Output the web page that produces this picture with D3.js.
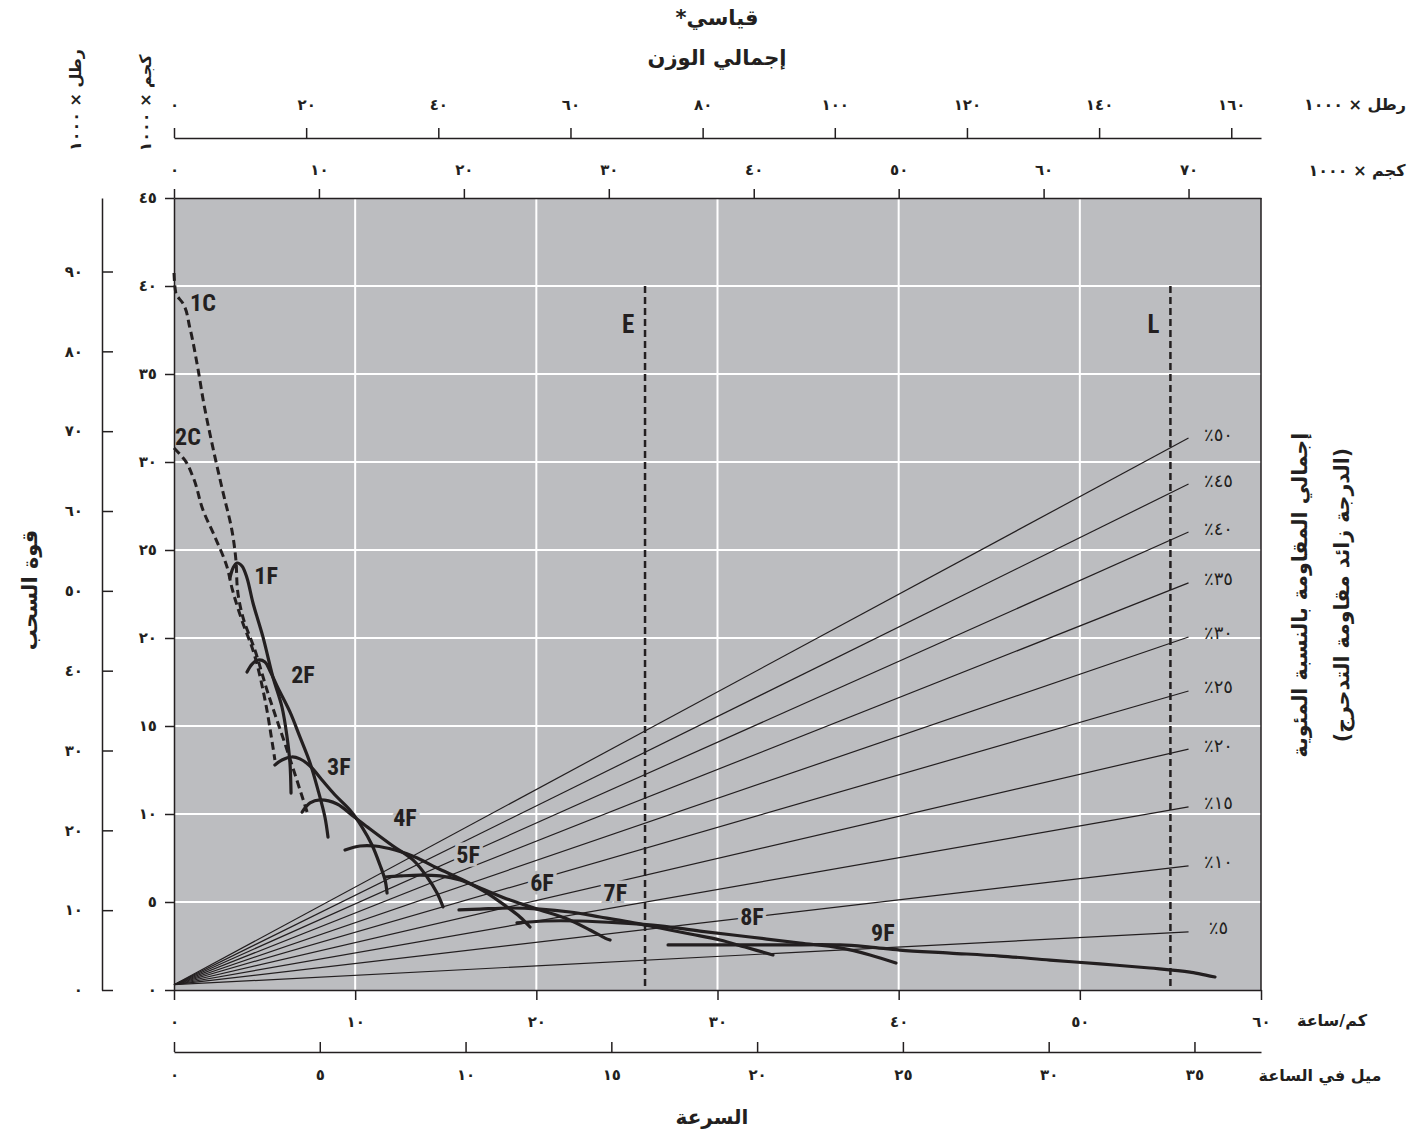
<!DOCTYPE html>
<html><head><meta charset="utf-8">
<script src="https://cdn.jsdelivr.net/npm/d3@7"></script>
<style>
body{margin:0;background:#fff}
svg{display:block}
text{fill:#231f20}
</style>
</head><body>
<svg id="c" width="1424" height="1137"></svg>
<script>
// ---------------- DATA ----------------
const speedKmTicks = [0,10,20,30,40,50,60];
const speedMphTicks = [0,5,10,15,20,25,30,35];
const pullKgTicks = [0,5,10,15,20,25,30,35,40,45];
const pullLbsTicks = [0,10,20,30,40,50,60,70,80,90];
const weightLbsTicks = [0,20,40,60,80,100,120,140,160];
const weightKgTicks = [0,10,20,30,40,50,60,70];

// Tractive-effort curves: [speed km/h, pull (x1000 kg)]
const curve1C = [[0,40.74],[0.1,39.6],[0.5,39.0],[0.88,37.6],[1.27,35.6],[1.65,33.3],[2.15,30.8],[2.7,28.3],[3.2,26.1],[3.42,24.4],[3.5,22.8],[3.8,21.2],[4.47,19.3],[5.13,17.05],[6.24,13.64],[7.4,9.94]];
const curve2C = [[0,30.8],[0.6,30.1],[1.05,29.15],[1.6,27.27],[2.26,25.74],[2.93,24.03],[3.2,22.84],[3.75,21.0],[4.36,19.3],[5.02,16.5],[5.4,14.2],[5.57,13.07]];
const curve1F = [[3.09,23.41],[3.26,23.98],[3.48,24.26],[3.75,24.09],[4.03,23.41],[4.36,21.99],[4.91,20.06],[5.46,17.78],[5.96,16.08],[6.24,14.38],[6.40,12.9],[6.46,11.19]];
const curve2F = [[4.03,18.07],[4.31,18.52],[4.64,18.75],[5.02,18.64],[5.30,18.13],[5.74,17.16],[6.40,15.8],[6.95,14.38],[7.51,12.9],[7.95,11.36],[8.33,9.83],[8.50,8.69]];
const curve3F = [[5.57,12.78],[5.96,13.07],[6.51,13.24],[6.95,13.13],[7.51,12.73],[8.17,11.93],[8.89,11.08],[9.71,10.23],[10.38,9.26],[10.93,8.24],[11.37,7.10],[11.65,6.25],[11.76,5.51]];
const curve4F = [[7.07,10.11],[7.51,10.63],[8.06,10.80],[9.0,10.57],[9.88,9.89],[10.82,9.15],[12.09,8.18],[13.19,7.39],[13.97,6.42],[14.52,5.51],[14.85,4.72]];
const curve5F = [[9.44,7.95],[10.27,8.18],[11.09,8.18],[12.2,7.95],[13.3,7.56],[14.52,6.93],[15.95,6.25],[17.28,5.51],[18.38,4.72],[19.1,4.15],[19.65,3.58]];
const curve6F = [[11.65,6.42],[12.48,6.48],[13.58,6.53],[14.69,6.48],[15.79,6.25],[17.17,5.68],[18.55,5.11],[20.2,4.55],[21.58,4.09],[22.96,3.41],[23.79,2.95],[24.07,2.84]];
const curve7F = [[15.73,4.55],[16.89,4.6],[18.55,4.66],[20.2,4.6],[21.86,4.43],[23.52,4.15],[25.17,3.86],[26.83,3.52],[28.49,3.18],[30.14,2.84],[31.52,2.44],[33.06,1.99]];
const curve8F = [[18.93,3.81],[20.48,3.92],[22.41,3.92],[24.62,3.81],[26.83,3.64],[29.03,3.35],[31.79,3.01],[34.55,2.67],[36.76,2.39],[38.42,1.99],[39.85,1.53]];
const curve9F = [[27.27,2.56],[30.14,2.56],[33.45,2.56],[36.76,2.56],[38.42,2.44],[40.07,2.27],[42.83,2.1],[45.59,1.93],[48.35,1.7],[51.11,1.48],[53.87,1.25],[56.08,1.02],[57.46,0.74]];

const curveNames = ["1C","2C","1F","2F","3F","4F","5F","6F","7F","8F","9F"];
const curveData  = [curve1C,curve2C,curve1F,curve2F,curve3F,curve4F,curve5F,curve6F,curve7F,curve8F,curve9F];
const curveDashed = [true,true,false,false,false,false,false,false,false,false,false];
// label anchor for each curve, in data units [km/h, pull]
const curveLabelAt = [[1.6,39.03],[0.77,31.42],[5.08,23.52],[7.12,17.9],[9.1,12.67],[12.75,9.77],[16.23,7.67],[20.31,6.08],[24.36,5.51],[31.9,4.15],[39.13,3.24]];
const curveLabelHalo = [false,false,false,false,false,true,true,true,true,true,true];

// Grade resistance rays
const gradePercents = [5,10,15,20,25,30,35,40,45,50];
const gradeEndPull  = [3.3,7.05,10.4,13.69,16.99,20.06,23.13,26.02,28.75,31.36];
const rayStartPull = 0.3;
const rayEndSpeed = 56;

// Speed limits
const limitNames = ["E","L"];
const limitSpeeds = [26,55];
const limitTopPull = 40;

// ---------------- HELPERS ----------------
const ar = v => String(v).replace(/[0-9]/g, d => String.fromCharCode(0x0660 + +d));
const INK = "#231f20";
const BG = "#bcbdc0";
const AFONT = "'DejaVu Sans', sans-serif";
const LFONT = "'Liberation Sans Narrow','Roboto Condensed','Liberation Sans',Arial,sans-serif";

const L = 174, R = 1261, T = 198, B = 990;
const x = d3.scaleLinear().domain([0,60]).range([L,R]);
const xMph = d3.scaleLinear().domain([0,60/1.609344]).range([L,R]);
const y = d3.scaleLinear().domain([0,45]).range([B,T]);
const yLbs = d3.scaleLinear().domain([0,45*2.20462]).range([B,T]);
const wKg = d3.scaleLinear().domain([0,75]).range([L,R]);
const wLbs = d3.scaleLinear().domain([0,164.5]).range([L,R]);

const svg = d3.select("#c");

// plot background
svg.append("rect").attr("x",L).attr("y",T).attr("width",R-L).attr("height",B-T).attr("fill",BG);

// grid
const grid = svg.append("g").attr("stroke","#fff").attr("stroke-width",2);
grid.selectAll(".gx").data(speedKmTicks.slice(1,-1)).join("line")
  .attr("x1",d=>x(d)).attr("x2",d=>x(d)).attr("y1",T).attr("y2",B);
grid.selectAll(".gy").data(pullKgTicks.slice(1,-1)).join("line")
  .attr("y1",d=>y(d)).attr("y2",d=>y(d)).attr("x1",L).attr("x2",R);

// rays
const rays = svg.append("g").attr("stroke",INK).attr("stroke-width",1.2);
rays.selectAll("line").data(gradePercents).join("line")
  .attr("x1",x(0)).attr("y1",y(rayStartPull))
  .attr("x2",x(rayEndSpeed)).attr("y2",(d,i)=>y(gradeEndPull[i]));
svg.append("g").selectAll("text").data(gradePercents).join("text")
  .attr("x",x(rayEndSpeed)+30).attr("y",(d,i)=>y(gradeEndPull[i])-4)
  .attr("direction","rtl").attr("text-anchor","middle").attr("dominant-baseline","central")
  .attr("font-family",AFONT).attr("font-size",18).attr("letter-spacing",1)
  .text(d=>ar(d)+"٪");

// E / L limits
const lim = svg.append("g");
lim.selectAll("line").data(limitSpeeds).join("line")
  .attr("x1",d=>x(d)).attr("x2",d=>x(d)).attr("y1",y(limitTopPull)).attr("y2",B)
  .attr("stroke",INK).attr("stroke-width",2.5).attr("stroke-dasharray","7,4");
lim.selectAll("text").data(limitNames).join("text")
  .attr("x",(d,i)=>x(limitSpeeds[i])-17).attr("y",y(37.8))
  .attr("text-anchor","middle").attr("dominant-baseline","central")
  .attr("font-family",LFONT).attr("font-weight","bold").attr("font-size",25)
  .text(d=>d);

// labels with halo (drawn before curves so curves stay on top)
svg.append("g").selectAll("text").data(curveNames).join("text")
  .attr("x",(d,i)=>x(curveLabelAt[i][0])).attr("y",(d,i)=>y(curveLabelAt[i][1]))
  .attr("text-anchor","middle").attr("dominant-baseline","central")
  .attr("font-family",LFONT).attr("font-weight","bold").attr("font-size",24)
  .attr("stroke",(d,i)=>curveLabelHalo[i]?BG:"none").attr("stroke-width",7)
  .attr("paint-order","stroke")
  .text(d=>d);

// curves
const lineSolid = d3.line().x(d=>x(d[0])).y(d=>y(d[1])).curve(d3.curveCatmullRom.alpha(0.5));
const lineDash = d3.line().x(d=>x(d[0])).y(d=>y(d[1])).curve(d3.curveMonotoneY);
const cg = svg.append("g").attr("fill","none").attr("stroke",INK);
cg.selectAll("path").data(curveData).join("path")
  .attr("d",(d,i)=>curveDashed[i]?lineDash(d):lineSolid(d))
  .attr("stroke-width",(d,i)=>curveDashed[i]?3:3.2)
  .attr("stroke-dasharray",(d,i)=>curveDashed[i]?"8,4.5":null)
  .attr("stroke-linecap",(d,i)=>curveDashed[i]?"butt":"round");

// plot frame (right border)
svg.append("line").attr("x1",R).attr("x2",R).attr("y1",T).attr("y2",B).attr("stroke",INK).attr("stroke-width",1.5);

// ---------------- AXES ----------------
function styleAxis(g){
  g.select(".domain").attr("stroke",INK).attr("stroke-width",1.5);
  g.selectAll(".tick line").attr("stroke",INK).attr("stroke-width",1.5);
  g.selectAll(".tick text").attr("font-family",AFONT).attr("font-weight","bold")
    .attr("font-size",15).attr("letter-spacing",2).attr("fill",INK);
}
svg.append("g").attr("transform",`translate(0,${B})`)
  .call(d3.axisBottom(x).tickValues(speedKmTicks).tickFormat(ar).tickSizeInner(10).tickSizeOuter(0).tickPadding(16))
  .call(styleAxis);
svg.append("g").attr("transform",`translate(0,1052)`)
  .call(d3.axisBottom(xMph).tickValues(speedMphTicks).tickFormat(ar).tickSizeInner(-10).tickSizeOuter(0).tickPadding(17))
  .call(styleAxis);
svg.append("g").attr("transform",`translate(${L},0)`)
  .call(d3.axisLeft(y).tickValues(pullKgTicks).tickFormat(ar).tickSizeInner(9).tickSizeOuter(0).tickPadding(8))
  .call(styleAxis);
svg.append("g").attr("transform",`translate(102,0)`)
  .call(d3.axisLeft(yLbs).tickValues(pullLbsTicks).tickFormat(ar).tickSizeInner(-11).tickSizeOuter(0).tickPadding(19))
  .call(styleAxis);
svg.append("g").attr("transform",`translate(0,138)`)
  .call(d3.axisTop(wLbs).tickValues(weightLbsTicks).tickFormat(ar).tickSizeInner(10).tickSizeOuter(0).tickPadding(18))
  .call(styleAxis);
svg.append("g").attr("transform",`translate(0,${T})`)
  .call(d3.axisTop(wKg).tickValues(weightKgTicks).tickFormat(ar).tickSizeInner(9).tickSizeOuter(0).tickPadding(14))
  .call(styleAxis);

// ---------------- TITLES ----------------
function t(xp, yp, txt, size, opts={}){
  const e = svg.append("text").attr("x",xp).attr("y",yp)
    .attr("font-family",AFONT).attr("font-weight",opts.weight||"bold").attr("font-size",size)
    .attr("text-anchor",opts.anchor||"middle").attr("dominant-baseline","central")
    .attr("direction","rtl");
  if(opts.num){
    e.append("tspan").text(txt);
    e.append("tspan").attr("letter-spacing",opts.ls||4).text(opts.num);
  } else e.text(txt);
  if(opts.rot) e.attr("transform",`rotate(${opts.rot},${xp},${yp})`);
  return e;
}
t(717,18,"قياسي*",21);
t(717,58,"إجمالي الوزن",21);
t(1355,104,"رطل × ",16,{num:"١٠٠٠"});
t(1357,170,"كجم × ",16,{num:"١٠٠٠"});
t(1332,1020,"كم/ساعة",16);
t(1320,1075,"ميل في الساعة",16);
t(712,1117,"السرعة",20);
t(30,590,"قوة السحب",21,{rot:-90});
t(75,100,"رطل × ",16,{num:"١٠٠٠",rot:-90});
t(145,103,"كجم × ",16,{num:"١٠٠٠",rot:-90});
t(1300,595,"إجمالي المقاومة بالنسبة المئوية",20.5,{rot:-90});
t(1342,595,"(الدرجة زائد مقاومة التدحرج)",20.5,{rot:-90});
</script>
</body></html>
